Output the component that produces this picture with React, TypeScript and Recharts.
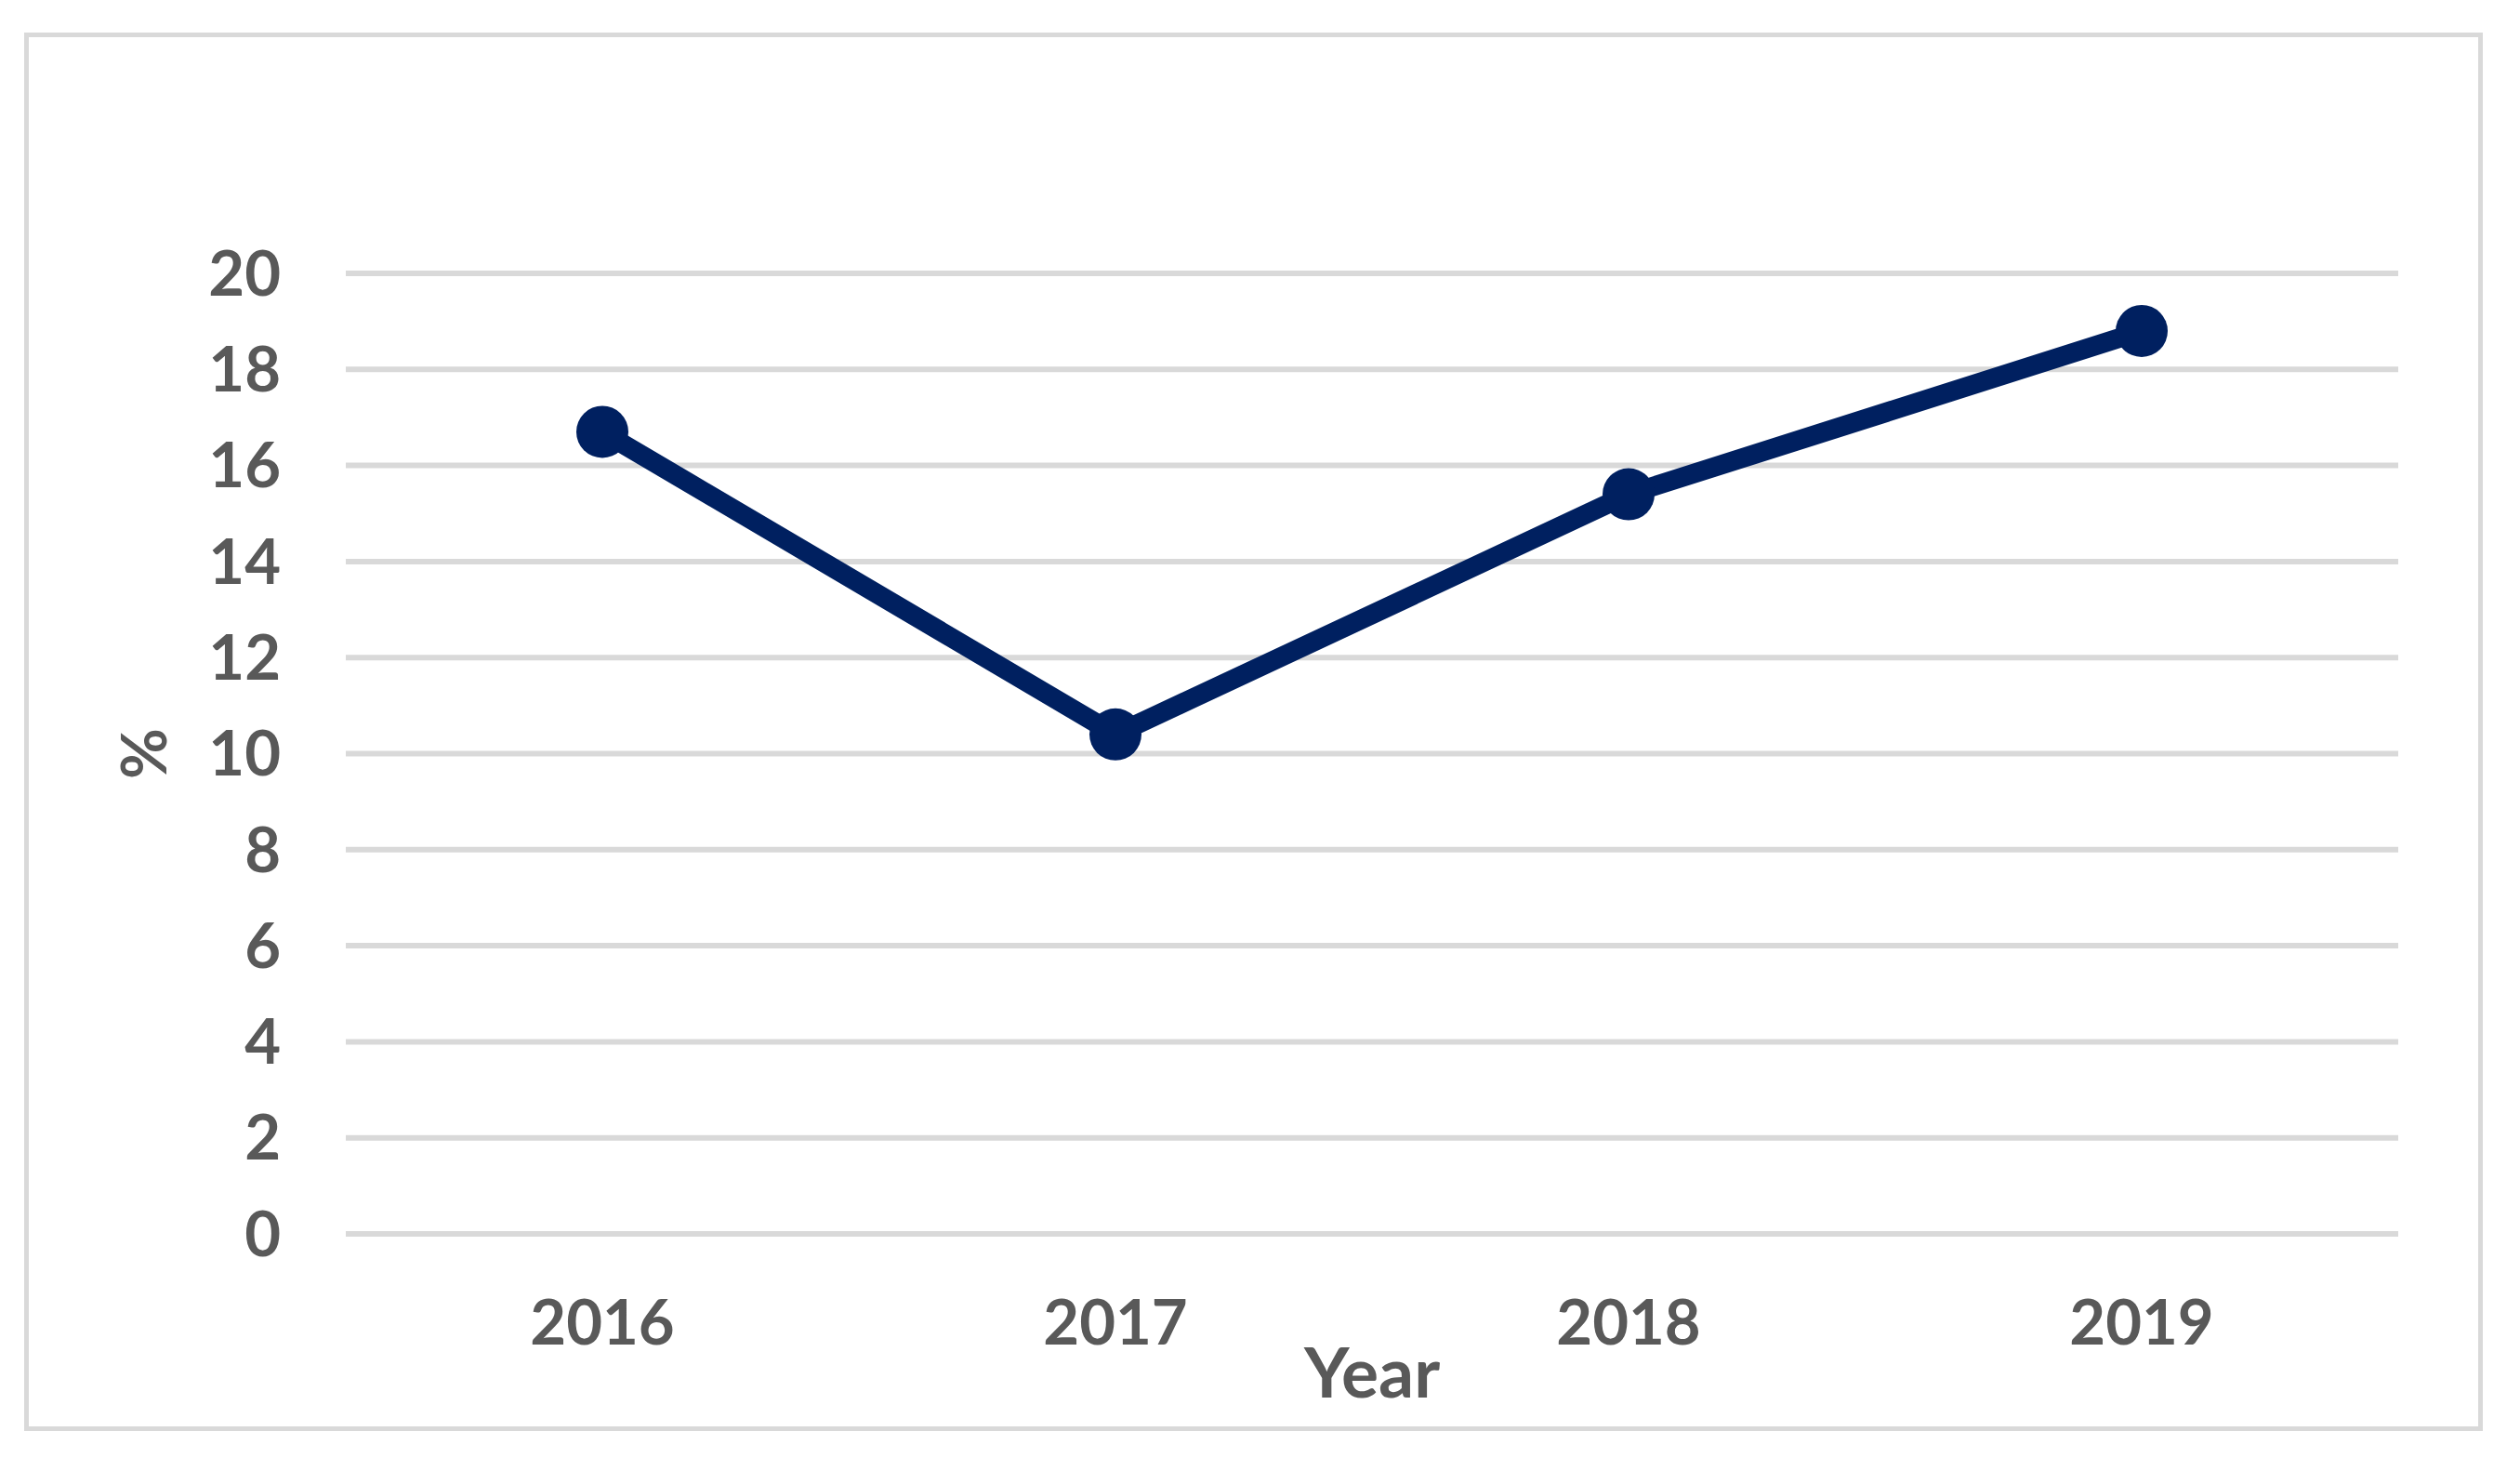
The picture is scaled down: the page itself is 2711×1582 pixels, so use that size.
import { CartesianGrid, Line, LineChart, XAxis, YAxis } from "recharts";

const years = ["2016", "2017", "2018", "2019"];
const percent = [16.7, 10.4, 15.4, 18.8];
const yTicks = [0, 2, 4, 6, 8, 10, 12, 14, 16, 18, 20];

const NAVY = "#002060";
const GRID = "#d9d9d9";
const TEXT = "#595959";
const FONT = "Lato, 'Open Sans', sans-serif";

const data = years.map((year, i) => ({ year, value: percent[i] }));

function YTitle({ viewBox }: any) {
  const cx = viewBox.x + 153;
  const cy = viewBox.y + viewBox.height / 2;
  return (
    <text
      x={cx}
      y={cy}
      transform={`rotate(-90 ${cx} ${cy})`}
      textAnchor="middle"
      dominantBaseline="central"
      fill={TEXT}
      fontFamily={FONT}
      fontWeight={700}
      fontSize={67}
    >
      %
    </text>
  );
}

function XTitle({ viewBox }: any) {
  return (
    <text
      x={viewBox.x + viewBox.width / 2}
      y={1503}
      textAnchor="middle"
      fill={TEXT}
      fontFamily={FONT}
      fontWeight={700}
      fontSize={75}
    >
      Year
    </text>
  );
}

export default function App() {
  return (
    <div
      style={{
        position: "absolute",
        left: 0,
        top: 0,
        width: 2711,
        height: 1582,
        background: "#fff",
        overflow: "hidden",
      }}
    >
      {/* chart frame */}
      <div
        style={{
          position: "absolute",
          left: 26,
          top: 35,
          width: 2645,
          height: 1504,
          border: `5px solid ${GRID}`,
          boxSizing: "border-box",
        }}
      />
      <div style={{ position: "absolute", left: 0, top: 0 }}>
        <LineChart
          width={2711}
          height={1582}
          data={data}
          margin={{ top: 294, right: 131, bottom: 0, left: 0 }}
        >
          <CartesianGrid
            vertical={false}
            stroke={GRID}
            strokeWidth={6}
          />
          <XAxis
            dataKey="year"
            axisLine={false}
            tickLine={false}
            tickSize={0}
            tickMargin={71}
            padding={{ left: 276, right: 276 }}
            tick={{
              fill: TEXT,
              fontSize: 67,
              fontWeight: 700,
              fontFamily: FONT,
            }}
            height={255}
            label={<XTitle />}
          />
          <YAxis
            domain={[0, 20]}
            ticks={yTicks}
            interval={0}
            width={372}
            axisLine={false}
            tickLine={false}
            tickSize={0}
            tickMargin={70}
            tick={{
              fill: TEXT,
              fontSize: 67,
              fontWeight: 700,
              fontFamily: FONT,
            }}
            label={<YTitle />}
          />
          <Line
            type="linear"
            dataKey="value"
            stroke={NAVY}
            strokeWidth={21}
            dot={{ r: 28, fill: NAVY, stroke: NAVY, strokeWidth: 0 }}
            activeDot={false}
            isAnimationActive={false}
          />
        </LineChart>
      </div>
    </div>
  );
}
